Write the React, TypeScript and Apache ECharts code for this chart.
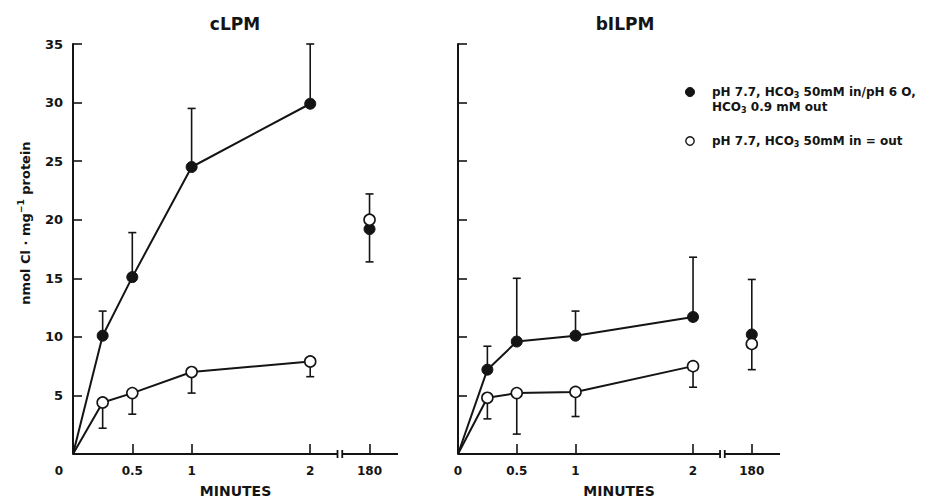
import React, { useEffect, useRef } from 'react';
import * as echarts from 'echarts';

// ---- data ----
const minutes = [0.25, 0.5, 1, 2];
const longLabel = '180';
const longPos = 2.5; // axis position of the 180-min point (beyond the axis break)
const axisMax = 2.74;
const breakStart = 2.23;
const breakEnd = 2.27;
const xTickValues = [0.5, 1, 2, 2.5];
const xLabelValues = [0, 0.5, 1, 2, 2.5];
const xTickLabels = ['0', '0.5', '1', '2', '180'];

// cLPM
const cFilled = [10.1, 15.1, 24.5, 29.9];
const cFilledUpper = [12.2, 18.9, 29.5, 35.0];
const cOpen = [4.4, 5.2, 7.0, 7.9];
const cOpenLower = [2.2, 3.4, 5.2, 6.6];
const cLongFilled = 19.2;
const cLongOpen = 20.0;
const cLongRange = [16.4, 22.2];

// bILPM
const bFilled = [7.2, 9.6, 10.1, 11.7];
const bFilledUpper = [9.2, 15.0, 12.2, 16.8];
const bOpen = [4.8, 5.2, 5.3, 7.5];
const bOpenLower = [3.0, 1.7, 3.2, 5.7];
const bLongFilled = 10.2;
const bLongOpen = 9.4;
const bLongRange = [7.2, 14.9];

const FONT = 'DejaVu Sans';
const INK = '#141414';

function buildPanel(idx: number, filled: number[], upper: number[], open: number[], lower: number[], longF: number, longO: number, range: number[]) {
  const filledData: any[] = [{ value: [0, 0], symbol: 'none' }, ...minutes.map((m, i) => [m, filled[i]])];
  const openData: any[] = [{ value: [0, 0], symbol: 'none' }, ...minutes.map((m, i) => [m, open[i]])];
  const errData: number[][] = [
    ...minutes.map((m, i) => [m, filled[i], upper[i]]),
    ...minutes.map((m, i) => [m, open[i], lower[i]]),
    [longPos, longO, range[1]],
    [longPos, longF, range[0]],
  ];
  const axisSegs = [
    [0, 0, breakStart, 1],
    [breakEnd, 0, axisMax, -1],
  ];
  const common = { xAxisIndex: idx, yAxisIndex: idx };
  return [
    {
      type: 'custom', ...common, z: 1, clip: false,
      data: errData,
      encode: { x: 0, y: [1, 2] },
      renderItem: (params: any, api: any) => {
        const x = api.value(0), y = api.value(1), b = api.value(2);
        const p1 = api.coord([x, y]);
        const p2 = api.coord([x, b]);
        const w = 4;
        return {
          type: 'group', children: [
            { type: 'line', shape: { x1: p1[0], y1: p1[1], x2: p2[0], y2: p2[1] }, style: { stroke: INK, lineWidth: 1.6 } },
            { type: 'line', shape: { x1: p2[0] - w, y1: p2[1], x2: p2[0] + w, y2: p2[1] }, style: { stroke: INK, lineWidth: 1.6 } },
          ],
        };
      },
    },
    {
      type: 'custom', ...common, z: 1, clip: false,
      data: axisSegs,
      encode: { x: [0, 2], y: 1 },
      renderItem: (params: any, api: any) => {
        const a = api.coord([api.value(0), api.value(1)]);
        const b = api.coord([api.value(2), api.value(1)]);
        const side = api.value(3);
        const mx = side > 0 ? b[0] : a[0];
        return {
          type: 'group', children: [
            { type: 'line', shape: { x1: a[0], y1: a[1], x2: b[0], y2: b[1] }, style: { stroke: INK, lineWidth: 2 } },
            { type: 'line', shape: { x1: mx, y1: a[1] - 4, x2: mx, y2: a[1] + 4 }, style: { stroke: INK, lineWidth: 1.8 } },
          ],
        };
      },
    },
    {
      type: 'line', ...common, z: 3, data: filledData, symbol: 'circle', symbolSize: 11,
      lineStyle: { color: INK, width: 2 }, itemStyle: { color: INK, borderColor: INK, borderWidth: 1, opacity: 1 },
    },
    {
      type: 'line', ...common, z: 3, data: openData, symbol: 'circle', symbolSize: 11,
      lineStyle: { color: INK, width: 2 }, itemStyle: { color: '#fff', borderColor: INK, borderWidth: 1.6, opacity: 1 },
    },
    {
      type: 'scatter', ...common, z: 4, data: [[longPos, longF]], symbol: 'circle', symbolSize: 11,
      itemStyle: { color: INK, borderColor: INK, borderWidth: 1, opacity: 1 },
    },
    {
      type: 'scatter', ...common, z: 5, data: [[longPos, longO]], symbol: 'circle', symbolSize: 11,
      itemStyle: { color: '#fff', borderColor: INK, borderWidth: 1.6, opacity: 1 },
    },
  ];
}

function xAxis(idx: number, zeroShift: boolean) {
  return {
    type: 'value', gridIndex: idx, min: 0, max: axisMax,
    name: 'MINUTES', nameLocation: 'middle', nameGap: 30,
    nameTextStyle: { fontFamily: FONT, fontWeight: 'bold', fontSize: 14, color: INK },
    axisLine: { show: false },
    splitLine: { show: false },
    axisTick: { show: true, inside: true, length: 10, customValues: xTickValues, lineStyle: { color: INK, width: 1.6 } },
    axisLabel: {
      show: true, customValues: xLabelValues, margin: 11,
      fontFamily: FONT, fontWeight: 'bold', fontSize: 12, color: INK,
      formatter: (v: number) => {
        const i = xLabelValues.indexOf(v);
        const t = i >= 0 ? xTickLabels[i] : '';
        if (v === longPos) return longLabel;
        if (v === 0 && zeroShift) return '{z|0}';
        return t;
      },
      rich: { z: { fontFamily: FONT, fontWeight: 'bold', fontSize: 12, color: INK, padding: [0, 28, 0, 0] } },
    },
  };
}

function yAxis(idx: number, labels: boolean) {
  return {
    type: 'value', gridIndex: idx, min: 0, max: 35, interval: 5,
    axisLine: { show: true, lineStyle: { color: INK, width: 2 } },
    splitLine: { show: false },
    axisTick: { show: true, inside: true, length: 9, lineStyle: { color: INK, width: 1.6 } },
    axisLabel: {
      show: labels, margin: 10, fontFamily: FONT, fontWeight: 'bold', fontSize: 13, color: INK,
      formatter: (v: number) => (v === 0 ? '' : String(v)),
    },
  };
}

export default function App() {
  const ref = useRef<HTMLDivElement>(null);
  useEffect(() => {
    document.body.style.margin = '0';
    const chart = echarts.init(ref.current!, null, { renderer: 'svg' });
    const legendRich = {
      sub: { fontFamily: FONT, fontWeight: 'bold', fontSize: 8, color: INK, padding: [7, 0, 0, 0] },
    };
    const legendStyle = { fontFamily: FONT, fontWeight: 'bold', fontSize: 12, fill: INK, lineHeight: 15, rich: legendRich };
    chart.setOption({
      animation: false,
      backgroundColor: '#fff',
      grid: [
        { left: 73, top: 44, width: 325, height: 410, outerBoundsMode: 'none', containLabel: false },
        { left: 458, top: 44, width: 322, height: 410, outerBoundsMode: 'none', containLabel: false },
      ],
      xAxis: [xAxis(0, true), xAxis(1, false)],
      yAxis: [yAxis(0, true), yAxis(1, false)],
      series: [
        ...buildPanel(0, cFilled, cFilledUpper, cOpen, cOpenLower, cLongFilled, cLongOpen, cLongRange),
        ...buildPanel(1, bFilled, bFilledUpper, bOpen, bOpenLower, bLongFilled, bLongOpen, bLongRange),
      ],
      graphic: [
        { type: 'text', x: 235, y: 24, style: { text: 'cLPM', align: 'center', verticalAlign: 'middle', fontFamily: FONT, fontWeight: 'bold', fontSize: 17, fill: INK } },
        { type: 'text', x: 625, y: 24, style: { text: 'bILPM', align: 'center', verticalAlign: 'middle', fontFamily: FONT, fontWeight: 'bold', fontSize: 17, fill: INK } },
        {
          type: 'text', x: 25, y: 223, rotation: Math.PI / 2,
          style: {
            text: 'nmol Cl · mg{sup|−1} protein', align: 'center', verticalAlign: 'middle',
            fontFamily: FONT, fontWeight: 'bold', fontSize: 13, fill: INK,
            rich: { sup: { fontFamily: FONT, fontWeight: 'bold', fontSize: 9, color: INK, padding: [0, 0, 8, 0] } },
          },
        },
        { type: 'circle', shape: { cx: 690, cy: 92, r: 4.5 }, style: { fill: INK, stroke: INK, lineWidth: 1 } },
        { type: 'circle', shape: { cx: 690, cy: 141, r: 4.2 }, style: { fill: '#fff', stroke: INK, lineWidth: 1.4 } },
        {
          type: 'text', x: 712, y: 84,
          style: { ...legendStyle, text: 'pH 7.7, HCO{sub|3} 50mM in/pH 6 O,\nHCO{sub|3} 0.9 mM out', align: 'left', verticalAlign: 'top' },
        },
        {
          type: 'text', x: 712, y: 133,
          style: { ...legendStyle, text: 'pH 7.7, HCO{sub|3} 50mM in = out', align: 'left', verticalAlign: 'top' },
        },
      ],
    });
    return () => chart.dispose();
  }, []);
  return <div ref={ref} style={{ position: 'fixed', left: 0, top: 0, width: 930, height: 500, background: '#fff' }} />;
}
